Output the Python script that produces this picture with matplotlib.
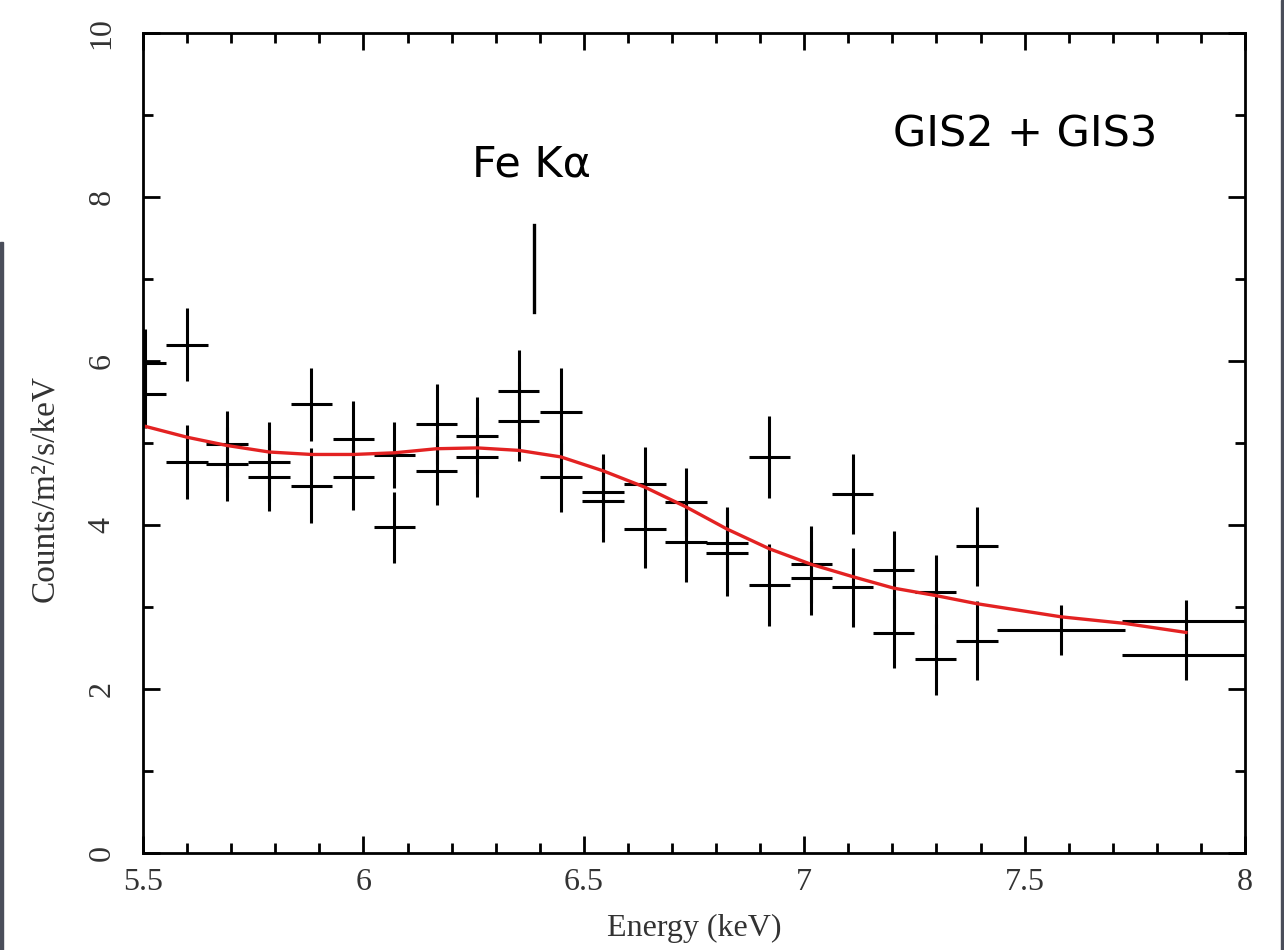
import matplotlib.pyplot as plt
import matplotlib.patches as mpatches
import numpy as np
from matplotlib.ticker import MultipleLocator

# spectral bins (GIS2 and GIS3 points share the same bin centres)
energy = [5.505, 5.505, 5.60, 5.60, 5.69, 5.69, 5.786, 5.786, 5.882, 5.882,
          5.977, 5.977, 6.07, 6.07, 6.166, 6.166, 6.258, 6.258, 6.352, 6.352,
          6.448, 6.448, 6.544, 6.544, 6.639, 6.639, 6.732, 6.732, 6.825, 6.825,
          6.921, 6.921, 7.016, 7.016, 7.11, 7.11, 7.203, 7.203, 7.298, 7.298,
          7.392, 7.392, 7.583, 7.866, 7.866]
half_width = [0.047] * 42 + [0.145, 0.145, 0.145]
counts = [5.97, 5.60, 6.20, 4.77, 4.99, 4.74, 4.77, 4.58, 5.47, 4.48,
          5.05, 4.58, 4.85, 3.97, 5.23, 4.66, 5.09, 4.83, 5.63, 5.27,
          5.38, 4.58, 4.40, 4.29, 4.50, 3.95, 4.28, 3.79, 3.78, 3.66,
          4.83, 3.27, 3.52, 3.35, 4.38, 3.24, 3.45, 2.68, 3.18, 2.36,
          3.74, 2.59, 2.72, 2.83, 2.41]
counts_err = [0.42, 0.42, 0.45, 0.45, 0.40, 0.45, 0.48, 0.41, 0.45, 0.46,
              0.46, 0.40, 0.40, 0.43, 0.49, 0.42, 0.47, 0.49, 0.51, 0.49,
              0.54, 0.42, 0.47, 0.50, 0.45, 0.48, 0.42, 0.48, 0.44, 0.52,
              0.50, 0.50, 0.47, 0.45, 0.49, 0.48, 0.48, 0.43, 0.45, 0.43,
              0.48, 0.48, 0.31, 0.25, 0.30]

# best-fit model curve
model_energy = [5.5, 5.6, 5.69, 5.786, 5.882, 5.977, 6.07, 6.166, 6.258, 6.352,
                6.448, 6.544, 6.639, 6.732, 6.825, 6.921, 7.016, 7.11, 7.203,
                7.298, 7.392, 7.583, 7.727, 7.866]
model_counts = [5.21, 5.07, 4.97, 4.89, 4.86, 4.86, 4.88, 4.93, 4.94, 4.91,
                4.83, 4.66, 4.46, 4.22, 3.95, 3.71, 3.52, 3.37, 3.23,
                3.14, 3.04, 2.88, 2.80, 2.69]

line_energy = 6.386

plt.rcParams['font.family'] = ['Liberation Serif', 'DejaVu Serif']

fig = plt.figure(figsize=(12.84, 9.5), dpi=100)
ax = fig.add_axes([0.1114, 0.1021, 0.8582, 0.8632])

ax.errorbar(energy, counts, xerr=half_width, yerr=counts_err, fmt='none',
            ecolor='black', elinewidth=2.2, capsize=0)
ax.plot(model_energy, model_counts, color='#e32222', lw=2.4)

ax.plot([line_energy, line_energy], [6.6, 7.66], color='black', lw=2.4)
ax.text(line_energy - 0.005, 8.39, 'Fe Kα', ha='center', va='center',
        fontsize=31, family=['DejaVu Sans'])
ax.text(7.502, 8.76, 'GIS2 + GIS3', ha='center', va='center',
        fontsize=31, family=['DejaVu Sans'])

ax.set_xlim(5.5, 8)
ax.set_ylim(0, 10)
ax.xaxis.set_major_locator(MultipleLocator(0.5))
ax.xaxis.set_minor_locator(MultipleLocator(0.1))
ax.yaxis.set_major_locator(MultipleLocator(2))
ax.yaxis.set_minor_locator(MultipleLocator(1))
ax.set_xticks([5.5, 6, 6.5, 7, 7.5, 8])
ax.set_xticklabels(['5.5', '6', '6.5', '7', '7.5', '8'])
ax.tick_params(which='both', direction='in', top=True, right=True,
               width=2, colors='black', labelsize=23, labelcolor='#333333')
ax.tick_params(which='major', length=12)
ax.tick_params(axis='x', which='major', pad=11)
ax.tick_params(axis='y', which='major', pad=19)
ax.tick_params(which='minor', length=7)
for lbl in ax.get_yticklabels():
    lbl.set_rotation(90)
    lbl.set_va('center')
for s in ax.spines.values():
    s.set_linewidth(2)

ax.set_xlabel('Energy (keV)', fontsize=23, color='#333333', labelpad=12)
ax.set_ylabel('Counts/m²/s/keV', fontsize=24, color='#333333')
ax.yaxis.set_label_coords(-0.074, 0.445)

# dark screenshot edges
fig.patches.append(mpatches.Rectangle((0, 0), 0.0025, 0.745, transform=fig.transFigure,
                                      color='#4a4e5a', zorder=0))
fig.patches.append(mpatches.Rectangle((0.9975, 0), 0.0025, 1, transform=fig.transFigure,
                                      color='#4a4e5a', zorder=0))

plt.savefig('out.png', dpi=100)
